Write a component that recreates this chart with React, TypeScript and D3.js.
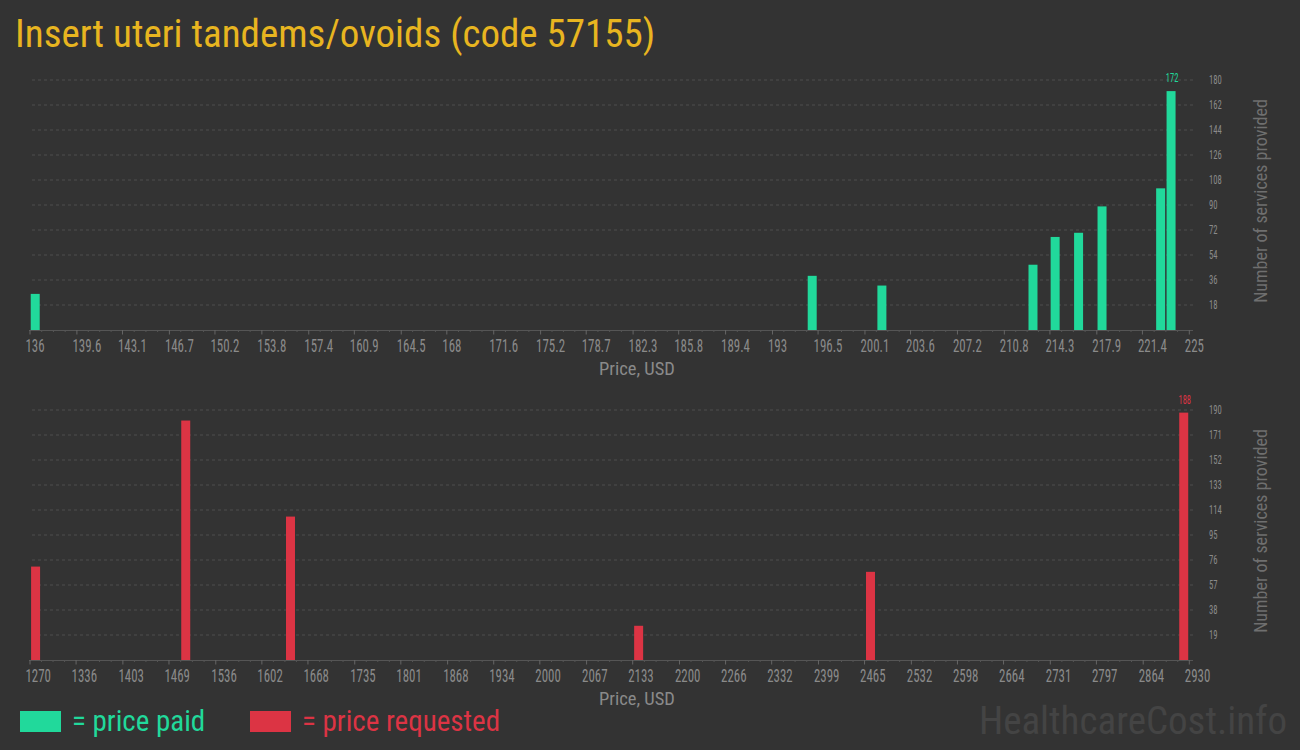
import React from "react";
import * as d3 from "d3";

const paidPrices = [136.4, 196.05, 201.4, 213.0, 214.7, 216.5, 218.3, 222.8, 223.6];
const paidCounts = [26, 39, 32, 47, 67, 70, 89, 102, 172];
const paidTicks = ["136", "139.6", "143.1", "146.7", "150.2", "153.8", "157.4", "160.9", "164.5", "168", "171.6", "175.2", "178.7", "182.3", "185.8", "189.4", "193", "196.5", "200.1", "203.6", "207.2", "210.8", "214.3", "217.9", "221.4", "225"];
const paidYTicks = [18, 36, 54, 72, 90, 108, 126, 144, 162, 180];

const reqPrices = [1278, 1493, 1643, 2141.5, 2473.5, 2922];
const reqCounts = [71, 182, 109, 26, 67, 188];
const reqTicks = ["1270", "1336", "1403", "1469", "1536", "1602", "1668", "1735", "1801", "1868", "1934", "2000", "2067", "2133", "2200", "2266", "2332", "2399", "2465", "2532", "2598", "2664", "2731", "2797", "2864", "2930"];
const reqYTicks = [19, 38, 57, 76, 95, 114, 133, 152, 171, 190];

const title = "Insert uteri tandems/ovoids (code 57155)";
const xTitle = "Price, USD";
const yTitle = "Number of services provided";
const legendPaid = "= price paid";
const legendReq = "= price requested";
const watermark = "HealthcareCost.info";

const COND = "'Roboto Condensed', 'Liberation Sans Narrow', 'DejaVu Sans Condensed', Roboto, sans-serif";
const BG = "#333333";
const GREEN = "#21d99b";
const RED = "#dc3444";
const AXIS_TEXT = "#8a8a8a";

function Panel({ prices, counts, ticks, yTicks, top, color }: any) {
  const x0 = 30, x1 = 1189.3, h = 250;
  const bottom = top + h;
  const tickVals = ticks.map(Number);
  const x = d3.scaleLinear().domain([tickVals[0], tickVals[tickVals.length - 1]]).range([x0, x1]);
  const y = d3.scaleLinear().domain([0, yTicks[yTicks.length - 1]]).range([bottom, top]);
  const minor: number[] = [];
  for (let i = 0; i < tickVals.length - 1; i++) {
    const a = x(tickVals[i]), b = x(tickVals[i + 1]);
    for (let k = 1; k < 4; k++) minor.push(a + ((b - a) * k) / 4);
  }
  const maxI = d3.maxIndex(counts);
  const bw = 9;
  return (
    <g>
      {yTicks.map((t: number) => (
        <g key={t}>
          <line x1={32} x2={1193} y1={y(t)} y2={y(t)} stroke="#4e4e4e" strokeDasharray="3,3" strokeWidth={1} />
          <text transform={`translate(1209, ${y(t) + 4.3}) scale(0.72, 1)`} fontFamily={COND} fontSize={12} fill={AXIS_TEXT}>{t}</text>
        </g>
      ))}
      {prices.map((p: number, i: number) => (
        <rect key={i} x={x(p) - bw / 2} y={y(counts[i])} width={bw} height={bottom - y(counts[i])} fill={color} />
      ))}
      <text transform={`translate(${x(prices[maxI]) + 1}, ${y(counts[maxI]) - 9}) scale(0.65, 1)`} textAnchor="middle" fontFamily={COND} fontSize={13} fill={color}>{counts[maxI]}</text>
      <line x1={x0 - 1} x2={1193} y1={bottom + 0.5} y2={bottom + 0.5} stroke="#555" strokeWidth={1} />
      {minor.map((m, i) => (
        <line key={i} x1={m} x2={m} y1={bottom} y2={bottom + 2} stroke="#555" strokeWidth={1} />
      ))}
      {ticks.map((t: string, i: number) => (
        <g key={t}>
          <line x1={x(tickVals[i])} x2={x(tickVals[i])} y1={bottom} y2={bottom + 4.5} stroke="#666" strokeWidth={1} />
          <text transform={`translate(${x(tickVals[i]) - 4.5}, ${bottom + 22}) scale(0.68, 1)`} fontFamily={COND} fontSize={19} fill={AXIS_TEXT}>{t}</text>
        </g>
      ))}
      <text x={637} y={bottom + 45} textAnchor="middle" fontFamily={COND} fontSize={18.5} fill={AXIS_TEXT}>{xTitle}</text>
      <text transform={`translate(1267, ${top + 121}) rotate(-90)`} textAnchor="middle" fontFamily={COND} fontSize={18} fill="#6f6f6f">{yTitle}</text>
    </g>
  );
}

export default function App() {
  return (
    <svg width={1300} height={750} style={{ position: "absolute", left: 0, top: 0, background: BG }}>
      <rect width={1300} height={750} fill={BG} />
      <text x={15} y={47} fontFamily={COND} fontSize={39} fill="#e8b520">{title}</text>
      <Panel prices={paidPrices} counts={paidCounts} ticks={paidTicks} yTicks={paidYTicks} top={80} color={GREEN} />
      <Panel prices={reqPrices} counts={reqCounts} ticks={reqTicks} yTicks={reqYTicks} top={410} color={RED} />
      <rect x={20} y={711} width={41} height={21} fill={GREEN} />
      <text x={72} y={731} fontFamily={COND} fontSize={29} fill={GREEN}>{legendPaid}</text>
      <rect x={250} y={711} width={41} height={21} fill={RED} />
      <text x={302} y={731} fontFamily={COND} fontSize={29} fill={RED}>{legendReq}</text>
      <text x={1287} y={734} textAnchor="end" fontFamily={COND} fontSize={39} fill="#444444">{watermark}</text>
    </svg>
  );
}
